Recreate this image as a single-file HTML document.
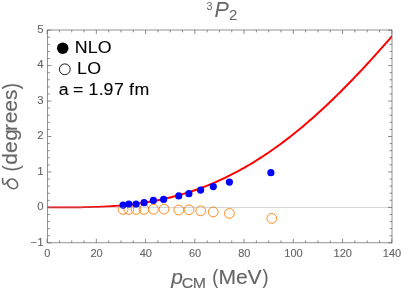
<!DOCTYPE html><html><head><meta charset="utf-8"><style>html,body{margin:0;padding:0;background:#fff;}svg{display:block;will-change:transform;}text{font-family:"Liberation Sans",sans-serif;filter:grayscale(1);}</style></head><body>
<svg width="415" height="294" viewBox="0 0 415 294">
<rect width="415" height="294" fill="#fff"/>
<clipPath id="c"><rect x="47.45" y="30.0" width="344.55" height="212.8"/></clipPath>
<circle cx="123.1" cy="209.4" r="4.9" fill="none" stroke="#ff8000" stroke-width="0.9"/>
<circle cx="128.8" cy="209.4" r="4.9" fill="none" stroke="#ff8000" stroke-width="0.9"/>
<circle cx="136.05" cy="209.4" r="4.9" fill="none" stroke="#ff8000" stroke-width="0.9"/>
<circle cx="144.05" cy="209.4" r="4.9" fill="none" stroke="#ff8000" stroke-width="0.9"/>
<circle cx="153.35" cy="209.3" r="4.9" fill="none" stroke="#ff8000" stroke-width="0.9"/>
<circle cx="164.0" cy="209.1" r="4.9" fill="none" stroke="#ff8000" stroke-width="0.9"/>
<circle cx="178.8" cy="210.0" r="4.9" fill="none" stroke="#ff8000" stroke-width="0.9"/>
<circle cx="189.0" cy="209.8" r="4.9" fill="none" stroke="#ff8000" stroke-width="0.9"/>
<circle cx="200.7" cy="210.8" r="4.9" fill="none" stroke="#ff8000" stroke-width="0.9"/>
<circle cx="213.2" cy="211.9" r="4.9" fill="none" stroke="#ff8000" stroke-width="0.9"/>
<circle cx="229.4" cy="213.4" r="4.9" fill="none" stroke="#ff8000" stroke-width="0.9"/>
<circle cx="271.8" cy="218.4" r="4.9" fill="none" stroke="#ff8000" stroke-width="0.9"/>
<polygon points="47.10,208.27 49.56,208.28 52.02,208.28 54.49,208.28 56.95,208.28 59.41,208.28 61.87,208.28 64.34,208.28 66.80,208.27 69.26,208.27 71.73,208.25 74.19,208.24 76.65,208.21 79.12,208.19 81.58,208.15 84.05,208.11 86.51,208.06 88.98,208.01 91.44,207.94 93.91,207.87 96.37,207.79 98.84,207.70 101.30,207.59 103.77,207.48 106.24,207.35 108.70,207.21 111.17,207.06 113.64,206.90 116.11,206.72 118.57,206.53 121.04,206.32 123.51,206.10 125.98,205.86 128.45,205.61 130.92,205.33 133.38,205.05 135.85,204.74 138.32,204.42 140.79,204.08 143.26,203.72 145.73,203.34 148.20,202.94 150.67,202.53 153.14,202.09 155.61,201.63 158.09,201.15 160.56,200.65 163.03,200.12 165.50,199.58 167.97,199.00 170.44,198.41 172.91,197.79 175.38,197.15 177.85,196.49 180.32,195.80 182.79,195.08 185.26,194.35 187.73,193.58 190.20,192.80 192.67,191.98 195.15,191.15 197.62,190.28 200.09,189.39 202.56,188.48 205.03,187.53 207.50,186.56 209.97,185.57 212.44,184.55 214.91,183.50 217.38,182.42 219.85,181.31 222.32,180.18 224.79,179.02 227.26,177.83 229.73,176.62 232.20,175.37 234.67,174.10 237.14,172.80 239.61,171.47 242.08,170.11 244.55,168.73 247.02,167.31 249.49,165.87 251.96,164.40 254.43,162.90 256.90,161.37 259.37,159.81 261.84,158.22 264.31,156.61 266.78,154.97 269.24,153.29 271.71,151.59 274.18,149.87 276.65,148.11 279.12,146.32 281.59,144.51 284.05,142.67 286.52,140.80 288.99,138.90 291.46,136.97 293.92,135.02 296.39,133.04 298.86,131.03 301.32,129.00 303.79,126.93 306.26,124.84 308.73,122.73 311.19,120.59 313.66,118.42 316.12,116.22 318.59,114.01 321.06,111.76 323.52,109.49 325.99,107.19 328.46,104.88 330.92,102.53 333.39,100.16 335.85,97.77 338.32,95.36 340.78,92.92 343.25,90.46 345.71,87.98 348.18,85.47 350.64,82.95 353.11,80.40 355.57,77.83 358.04,75.25 360.50,72.64 362.97,70.01 365.43,67.37 367.90,64.70 370.36,62.02 372.82,59.32 375.29,56.61 377.75,53.87 380.22,51.12 382.68,48.36 385.14,45.58 387.61,42.79 390.07,39.99 392.53,37.17 395.00,34.34 393.49,33.02 391.03,35.85 388.57,38.67 386.11,41.47 383.64,44.26 381.18,47.03 378.72,49.79 376.26,52.54 373.80,55.26 371.34,57.97 368.88,60.67 366.42,63.35 363.97,66.00 361.51,68.65 359.05,71.27 356.59,73.87 354.13,76.45 351.67,79.01 349.21,81.55 346.75,84.07 344.29,86.57 341.83,89.05 339.37,91.50 336.91,93.93 334.46,96.34 332.00,98.72 329.54,101.09 327.08,103.42 324.62,105.73 322.16,108.02 319.71,110.28 317.25,112.52 314.79,114.73 312.33,116.92 309.88,119.08 307.42,121.21 304.96,123.32 302.50,125.40 300.05,127.46 297.59,129.48 295.13,131.48 292.68,133.46 290.22,135.40 287.76,137.32 285.31,139.21 282.85,141.07 280.39,142.90 277.94,144.71 275.48,146.48 273.03,148.23 270.57,149.95 268.12,151.64 265.66,153.31 263.21,154.94 260.75,156.55 258.29,158.12 255.84,159.67 253.39,161.19 250.93,162.68 248.48,164.15 246.02,165.58 243.57,166.99 241.11,168.36 238.66,169.71 236.20,171.03 233.75,172.33 231.30,173.59 228.84,174.83 226.39,176.03 223.93,177.21 221.48,178.37 219.03,179.49 216.57,180.59 214.12,181.66 211.67,182.70 209.21,183.72 206.76,184.71 204.31,185.67 201.85,186.60 199.40,187.51 196.95,188.40 194.49,189.25 192.04,190.09 189.59,190.89 187.13,191.68 184.68,192.43 182.23,193.16 179.78,193.87 177.32,194.56 174.87,195.22 172.42,195.85 169.96,196.47 167.51,197.06 165.05,197.62 162.60,198.17 160.15,198.70 157.69,199.20 155.24,199.69 152.79,200.15 150.34,200.60 147.88,201.02 145.43,201.43 142.97,201.81 140.52,202.18 138.07,202.53 135.61,202.86 133.16,203.17 130.70,203.46 128.25,203.74 125.79,204.00 123.33,204.24 120.88,204.47 118.42,204.68 115.97,204.88 113.51,205.07 111.05,205.24 108.60,205.39 106.14,205.54 103.68,205.67 101.22,205.79 98.77,205.90 96.31,206.00 93.85,206.08 91.39,206.16 88.93,206.23 86.47,206.29 84.01,206.34 81.55,206.38 79.09,206.42 76.63,206.45 74.17,206.48 71.71,206.50 69.25,206.51 66.79,206.52 64.33,206.53 61.87,206.53 59.41,206.53 56.95,206.53 54.49,206.53 52.02,206.53 49.56,206.53 47.10,206.53" fill="#ff0000" clip-path="url(#c)"/>
<circle cx="123.1" cy="205.1" r="3.6" fill="#0000ff"/>
<circle cx="128.8" cy="204.1" r="3.6" fill="#0000ff"/>
<circle cx="136.05" cy="204.1" r="3.6" fill="#0000ff"/>
<circle cx="144.05" cy="202.7" r="3.6" fill="#0000ff"/>
<circle cx="153.35" cy="200.4" r="3.6" fill="#0000ff"/>
<circle cx="163.6" cy="199.4" r="3.6" fill="#0000ff"/>
<circle cx="178.75" cy="195.9" r="3.6" fill="#0000ff"/>
<circle cx="188.9" cy="193.7" r="3.6" fill="#0000ff"/>
<circle cx="200.6" cy="190.1" r="3.6" fill="#0000ff"/>
<circle cx="213.3" cy="186.6" r="3.6" fill="#0000ff"/>
<circle cx="229.4" cy="182.1" r="3.6" fill="#0000ff"/>
<circle cx="270.9" cy="172.7" r="3.6" fill="#0000ff"/>
<line x1="47.45" y1="207.4" x2="392.0" y2="207.4" stroke="#909090" stroke-width="0.4"/>
<rect x="47.45" y="30.0" width="344.55" height="212.8" fill="none" stroke="#666" stroke-width="0.7"/>
<path d="M47.10,242.8v-4M47.10,30.0v4M59.41,242.8v-2.4M59.41,30.0v2.4M71.72,242.8v-2.4M71.72,30.0v2.4M84.03,242.8v-2.4M84.03,30.0v2.4M96.34,242.8v-4M96.34,30.0v4M108.65,242.8v-2.4M108.65,30.0v2.4M120.96,242.8v-2.4M120.96,30.0v2.4M133.27,242.8v-2.4M133.27,30.0v2.4M145.58,242.8v-4M145.58,30.0v4M157.89,242.8v-2.4M157.89,30.0v2.4M170.20,242.8v-2.4M170.20,30.0v2.4M182.51,242.8v-2.4M182.51,30.0v2.4M194.82,242.8v-4M194.82,30.0v4M207.13,242.8v-2.4M207.13,30.0v2.4M219.44,242.8v-2.4M219.44,30.0v2.4M231.75,242.8v-2.4M231.75,30.0v2.4M244.06,242.8v-4M244.06,30.0v4M256.37,242.8v-2.4M256.37,30.0v2.4M268.68,242.8v-2.4M268.68,30.0v2.4M280.99,242.8v-2.4M280.99,30.0v2.4M293.30,242.8v-4M293.30,30.0v4M305.61,242.8v-2.4M305.61,30.0v2.4M317.92,242.8v-2.4M317.92,30.0v2.4M330.23,242.8v-2.4M330.23,30.0v2.4M342.54,242.8v-4M342.54,30.0v4M354.85,242.8v-2.4M354.85,30.0v2.4M367.16,242.8v-2.4M367.16,30.0v2.4M379.47,242.8v-2.4M379.47,30.0v2.4M391.78,242.8v-4M391.78,30.0v4M47.45,242.85h4M392.0,242.85h-4M47.45,235.76h2.4M392.0,235.76h-2.4M47.45,228.67h2.4M392.0,228.67h-2.4M47.45,221.58h2.4M392.0,221.58h-2.4M47.45,214.49h2.4M392.0,214.49h-2.4M47.45,207.40h4M392.0,207.40h-4M47.45,200.31h2.4M392.0,200.31h-2.4M47.45,193.22h2.4M392.0,193.22h-2.4M47.45,186.13h2.4M392.0,186.13h-2.4M47.45,179.04h2.4M392.0,179.04h-2.4M47.45,171.95h4M392.0,171.95h-4M47.45,164.86h2.4M392.0,164.86h-2.4M47.45,157.77h2.4M392.0,157.77h-2.4M47.45,150.68h2.4M392.0,150.68h-2.4M47.45,143.59h2.4M392.0,143.59h-2.4M47.45,136.50h4M392.0,136.50h-4M47.45,129.41h2.4M392.0,129.41h-2.4M47.45,122.32h2.4M392.0,122.32h-2.4M47.45,115.23h2.4M392.0,115.23h-2.4M47.45,108.14h2.4M392.0,108.14h-2.4M47.45,101.05h4M392.0,101.05h-4M47.45,93.96h2.4M392.0,93.96h-2.4M47.45,86.87h2.4M392.0,86.87h-2.4M47.45,79.78h2.4M392.0,79.78h-2.4M47.45,72.69h2.4M392.0,72.69h-2.4M47.45,65.60h4M392.0,65.60h-4M47.45,58.51h2.4M392.0,58.51h-2.4M47.45,51.42h2.4M392.0,51.42h-2.4M47.45,44.33h2.4M392.0,44.33h-2.4M47.45,37.24h2.4M392.0,37.24h-2.4M47.45,30.15h4M392.0,30.15h-4" stroke="#666" stroke-width="0.75" fill="none"/>
<text x="47.35" y="256.7" font-size="11" fill="#666" stroke="#666" stroke-width="0.12" text-anchor="middle">0</text>
<text x="96.59" y="256.7" font-size="11" fill="#666" stroke="#666" stroke-width="0.12" text-anchor="middle">20</text>
<text x="145.83" y="256.7" font-size="11" fill="#666" stroke="#666" stroke-width="0.12" text-anchor="middle">40</text>
<text x="195.07" y="256.7" font-size="11" fill="#666" stroke="#666" stroke-width="0.12" text-anchor="middle">60</text>
<text x="244.31" y="256.7" font-size="11" fill="#666" stroke="#666" stroke-width="0.12" text-anchor="middle">80</text>
<text x="293.55" y="256.7" font-size="11" fill="#666" stroke="#666" stroke-width="0.12" text-anchor="middle">100</text>
<text x="342.79" y="256.7" font-size="11" fill="#666" stroke="#666" stroke-width="0.12" text-anchor="middle">120</text>
<text x="392.03" y="256.7" font-size="11" fill="#666" stroke="#666" stroke-width="0.12" text-anchor="middle">140</text>
<text x="43.5" y="245.65" font-size="11.3" fill="#666" stroke="#666" stroke-width="0.12" text-anchor="end">−1</text>
<text x="43.5" y="210.20" font-size="11.3" fill="#666" stroke="#666" stroke-width="0.12" text-anchor="end">0</text>
<text x="43.5" y="174.75" font-size="11.3" fill="#666" stroke="#666" stroke-width="0.12" text-anchor="end">1</text>
<text x="43.5" y="139.30" font-size="11.3" fill="#666" stroke="#666" stroke-width="0.12" text-anchor="end">2</text>
<text x="43.5" y="103.85" font-size="11.3" fill="#666" stroke="#666" stroke-width="0.12" text-anchor="end">3</text>
<text x="43.5" y="68.40" font-size="11.3" fill="#666" stroke="#666" stroke-width="0.12" text-anchor="end">4</text>
<text x="43.5" y="32.95" font-size="11.3" fill="#666" stroke="#666" stroke-width="0.12" text-anchor="end">5</text>
<text x="206.5" y="10.15" font-size="10.8" fill="#666">3</text>
<text transform="translate(214.6,17.2) scale(0.96,1)" font-size="22.4" font-style="italic" fill="#666">P</text>
<text x="228.9" y="20.4" font-size="15.1" fill="#666">2</text>
<text transform="translate(171.17,283.60) scale(1.0,1)" font-size="20.9" fill="#666" font-style="italic" stroke="#666" stroke-width="0.15">p</text>
<text transform="translate(181.84,288.40) scale(1.03,1)" font-size="15.4" fill="#666" stroke="#666" stroke-width="0.15">C</text>
<text transform="translate(192.75,288.40) scale(1.03,1)" font-size="15.4" fill="#666" stroke="#666" stroke-width="0.15">M</text>
<text transform="translate(212.15,283.70) scale(0.86,1)" font-size="20.9" fill="#666" stroke="#666" stroke-width="0.15">(</text>
<text transform="translate(218.52,283.50) scale(1.05,1)" font-size="20.1" fill="#666" stroke="#666" stroke-width="0.15">M</text>
<text transform="translate(236.10,283.50) scale(1.05,1)" font-size="20.1" fill="#666" stroke="#666" stroke-width="0.15">e</text>
<text transform="translate(247.56,283.50) scale(1.05,1)" font-size="20.1" fill="#666" stroke="#666" stroke-width="0.15">V</text>
<text transform="translate(262.41,283.70) scale(0.86,1)" font-size="20.9" fill="#666" stroke="#666" stroke-width="0.15">)</text>
<g fill="none" stroke="#666" stroke-width="1.55" stroke-linejoin="round"><path d="M2.6,177.9 L2.8,182.2 C2.9,184.7 5.2,184.9 6.6,182.7 C7.6,181.1 8.6,180.1 10.0,179.4"/><ellipse cx="12.6" cy="183.85" rx="5.4" ry="4.45" transform="rotate(38 12.6 183.85)"/></g>
<text transform="translate(17.65,171.51) rotate(-90) scale(0.86,1)" font-size="21.6" fill="#666" stroke="#666" stroke-width="0.15">(</text>
<text transform="translate(17.40,164.83) rotate(-90) scale(1.02,1)" font-size="20.5" fill="#666" stroke="#666" stroke-width="0.15">d</text>
<text transform="translate(17.40,152.99) rotate(-90) scale(1.02,1)" font-size="20.5" fill="#666" stroke="#666" stroke-width="0.15">e</text>
<text transform="translate(17.40,140.83) rotate(-90) scale(1.02,1)" font-size="20.5" fill="#666" stroke="#666" stroke-width="0.15">g</text>
<text transform="translate(17.40,130.94) rotate(-90) scale(1.02,1)" font-size="20.5" fill="#666" stroke="#666" stroke-width="0.15">r</text>
<text transform="translate(17.40,123.34) rotate(-90) scale(1.02,1)" font-size="20.5" fill="#666" stroke="#666" stroke-width="0.15">e</text>
<text transform="translate(17.40,111.64) rotate(-90) scale(1.02,1)" font-size="20.5" fill="#666" stroke="#666" stroke-width="0.15">e</text>
<text transform="translate(17.40,100.03) rotate(-90) scale(1.02,1)" font-size="20.5" fill="#666" stroke="#666" stroke-width="0.15">s</text>
<text transform="translate(17.65,89.32) rotate(-90) scale(0.86,1)" font-size="21.6" fill="#666" stroke="#666" stroke-width="0.15">)</text>
<circle cx="62.7" cy="48.15" r="5.75" fill="#000"/>
<text transform="translate(74.79,52.85) scale(1.04,1)" font-size="17.1" fill="#000" stroke="#000" stroke-width="0.1">N</text>
<text transform="translate(87.69,52.85) scale(1.04,1)" font-size="17.1" fill="#000" stroke="#000" stroke-width="0.1">L</text>
<text transform="translate(97.81,52.85) scale(1.04,1)" font-size="17.1" fill="#000" stroke="#000" stroke-width="0.1">O</text>
<circle cx="64.8" cy="69.3" r="5.4" fill="none" stroke="#000" stroke-width="0.9"/>
<text transform="translate(77.09,74.00) scale(1.04,1)" font-size="17.1" fill="#000" stroke="#000" stroke-width="0.1">L</text>
<text transform="translate(87.21,74.00) scale(1.04,1)" font-size="17.1" fill="#000" stroke="#000" stroke-width="0.1">O</text>
<text transform="translate(58.69,95.25) scale(1.04,1)" font-size="17.1" fill="#000" stroke="#000" stroke-width="0.1">a</text>
<text transform="translate(73.08,95.25) scale(1.04,1)" font-size="17.1" fill="#000" stroke="#000" stroke-width="0.1">=</text>
<text transform="translate(88.40,95.25) scale(1.04,1)" font-size="17.1" fill="#000" stroke="#000" stroke-width="0.1">1</text>
<text transform="translate(98.63,95.25) scale(1.04,1)" font-size="17.1" fill="#000" stroke="#000" stroke-width="0.1">.</text>
<text transform="translate(103.52,95.25) scale(1.04,1)" font-size="17.1" fill="#000" stroke="#000" stroke-width="0.1">9</text>
<text transform="translate(114.04,95.25) scale(1.04,1)" font-size="17.1" fill="#000" stroke="#000" stroke-width="0.1">7</text>
<text transform="translate(129.10,95.25) scale(1.04,1)" font-size="17.1" fill="#000" stroke="#000" stroke-width="0.1">f</text>
<text transform="translate(134.57,95.25) scale(1.04,1)" font-size="17.1" fill="#000" stroke="#000" stroke-width="0.1">m</text>
</svg></body></html>
